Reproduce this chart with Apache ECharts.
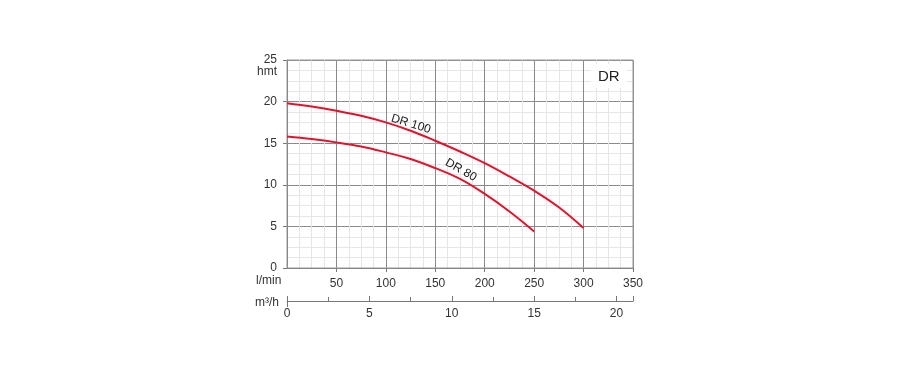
<!DOCTYPE html>
<html>
<head>
<meta charset="utf-8">
<script src="https://cdn.jsdelivr.net/npm/echarts@6/dist/echarts.min.js"></script>
<style>
  html, body { margin: 0; padding: 0; background: #fff; }
  #chart { width: 900px; height: 376px; }
</style>
</head>
<body>
<div id="chart"></div>
<script>
// flow in l/min, head in m
var flowDR100 = [0, 25, 50, 75, 100, 125, 150, 175, 200, 225, 250, 275, 300];
var headDR100 = [19.8, 19.4, 18.9, 18.3, 17.5, 16.5, 15.3, 14.0, 12.6, 11.0, 9.3, 7.3, 4.8];
var flowDR80 = [0, 25, 50, 75, 100, 125, 150, 175, 200, 225, 250];
var headDR80 = [15.8, 15.5, 15.1, 14.6, 13.9, 13.1, 12.0, 10.7, 8.9, 6.8, 4.4];

var lpmMax = 350;
var m3hMax = 350 / (1000 / 60);   // same span in m3/h

function pairs(xs, ys) {
  return xs.map(function (x, i) { return [x, ys[i]]; });
}

var font = 'Liberation Sans, Arial, sans-serif';
var red = '#e2142d';
var txt = '#333';

var chart = echarts.init(document.getElementById('chart'));
chart.setOption({
  animation: false,
  textStyle: { fontFamily: font },
  grid: { left: 287, right: 267, top: 60, bottom: 108 },
  xAxis: [
    {
      // medium lines every 25
      type: 'value', min: 0, max: lpmMax, interval: 25, position: 'top', z: 1,
      axisLine: { show: false }, axisTick: { show: false }, axisLabel: { show: false },
      splitLine: { lineStyle: { color: '#d2d2d2', width: 1 } }
    },
    {
      type: 'value', min: 0, max: lpmMax, interval: 50, position: 'bottom', z: 3,
      axisLine: { show: true, onZero: false, lineStyle: { color: '#777' } },
      axisTick: { show: true, length: 4, lineStyle: { color: '#777' } },
      axisLabel: { showMinLabel: false, color: txt, fontSize: 12, margin: 10 },
      splitLine: { lineStyle: { color: '#8a8a8a' } },
      minorTick: { show: false, splitNumber: 4 },
      minorSplitLine: { show: true, lineStyle: { color: '#e6e6e6' } }
    },
    {
      type: 'value', min: 0, max: m3hMax, interval: 5, position: 'bottom', offset: 33, z: 3,
      axisLine: { show: true, onZero: false, lineStyle: { color: '#777' } },
      axisTick: { show: true, inside: true, length: 5, lineStyle: { color: '#777' } },
      minorTick: { show: true, splitNumber: 2, length: 4, lineStyle: { color: '#777' } },
      axisLabel: { color: txt, fontSize: 12, margin: 7, showMaxLabel: false },
      splitLine: { show: false }
    }
  ],
  yAxis: [
    {
      type: 'value', min: 0, max: 25, interval: 2.5, position: 'right', z: 1,
      axisLine: { show: false }, axisTick: { show: false }, axisLabel: { show: false },
      splitLine: { lineStyle: { color: '#d2d2d2' } }
    },
    {
      type: 'value', min: 0, max: 25, interval: 5, position: 'left', z: 3,
      axisLine: { show: true, onZero: false, lineStyle: { color: '#777' } },
      axisTick: { show: true, length: 4, lineStyle: { color: '#777' } },
      axisLabel: { color: txt, fontSize: 12, margin: 10 },
      splitLine: { lineStyle: { color: '#8a8a8a' } },
      minorTick: { show: false, splitNumber: 4 },
      minorSplitLine: { show: true, lineStyle: { color: '#e6e6e6' } }
    }
  ],
  series: [
    {
      name: 'DR 100', type: 'line', xAxisIndex: 1, yAxisIndex: 1, smooth: 0.4,
      showSymbol: false, z: 5,
      lineStyle: { color: red, width: 2 },
      data: pairs(flowDR100, headDR100)
    },
    {
      name: 'DR 80', type: 'line', xAxisIndex: 1, yAxisIndex: 1, smooth: 0.4,
      showSymbol: false, z: 5,
      lineStyle: { color: red, width: 2 },
      data: pairs(flowDR80, headDR80)
    }
  ],
  graphic: [
    // frame top/right
    { type: 'rect', z: 4, shape: { x: 287, y: 60, width: 346, height: 208 },
      style: { fill: 'none', stroke: '#999', lineWidth: 1 }, silent: true },
    { type: 'text', left: 257, top: 66, style: { text: 'hmt', fill: txt, fontSize: 12, fontFamily: font } },
    { type: 'text', left: 256, top: 275, style: { text: 'l/min', fill: txt, fontSize: 12, fontFamily: font } },
    { type: 'text', left: 255, top: 297, style: { text: 'm³/h', fill: txt, fontSize: 12, fontFamily: font } },
    { type: 'line', shape: { x1: 287.5, y1: 298, x2: 287.5, y2: 307 }, style: { stroke: '#777', lineWidth: 1 } },
    { type: 'rect', z: 6, shape: { x: 591, y: 64, width: 36, height: 24 }, style: { fill: '#fff' } },
    { type: 'text', left: 598, top: 69, z: 7, style: { text: 'DR', fill: '#222', fontSize: 15, fontFamily: font } },
    { type: 'text', x: 411, y: 124, rotation: -0.3, z: 6,
      style: { text: 'DR 100', fill: '#222', fontSize: 12, fontFamily: font, align: 'center', verticalAlign: 'middle' } },
    { type: 'text', x: 461, y: 170, rotation: -0.52, z: 6,
      style: { text: 'DR 80', fill: '#222', fontSize: 12, fontFamily: font, align: 'center', verticalAlign: 'middle' } }
  ]
});
</script>
</body>
</html>
